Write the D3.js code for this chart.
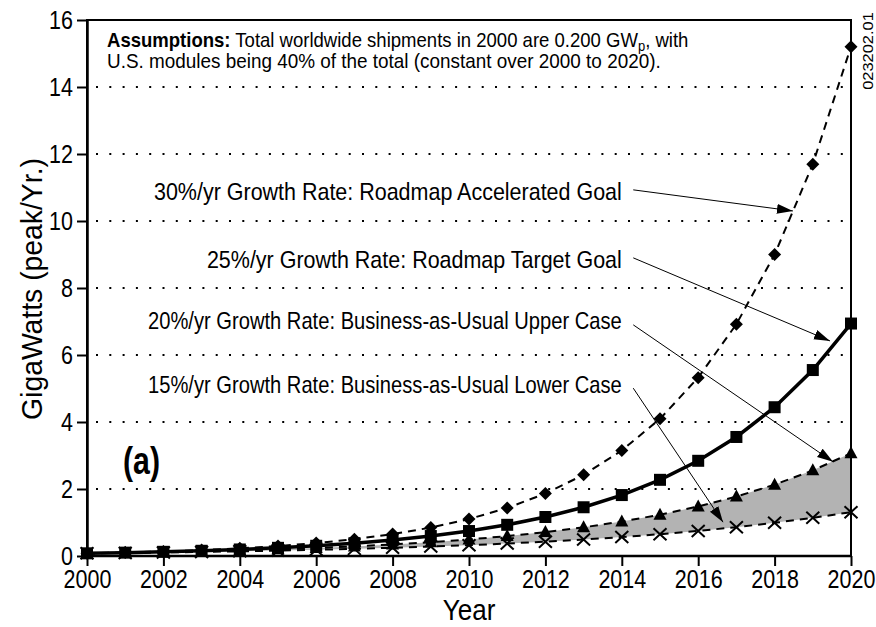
<!DOCTYPE html>
<html>
<head>
<meta charset="utf-8">
<script src="https://cdn.jsdelivr.net/npm/d3@7"></script>
<style>
  body { margin: 0; background: #fff; }
  text { font-family: "Liberation Sans", Arial, sans-serif; fill: #000; }
</style>
</head>
<body>
<div id="chart"></div>
<script>
// years and GW (peak/yr) of U.S. module shipments, one list per growth scenario
var years = [2000, 2001, 2002, 2003, 2004, 2005, 2006, 2007, 2008, 2009, 2010,
             2011, 2012, 2013, 2014, 2015, 2016, 2017, 2018, 2019, 2020];
var growth30 = [0.080, 0.104, 0.135, 0.176, 0.228, 0.297, 0.386, 0.502, 0.653, 0.848, 1.103,
                1.434, 1.864, 2.423, 3.150, 4.095, 5.324, 6.921, 8.997, 11.696, 15.205];
var growth25 = [0.080, 0.100, 0.125, 0.156, 0.195, 0.244, 0.305, 0.381, 0.477, 0.596, 0.745,
                0.931, 1.164, 1.455, 1.819, 2.274, 2.842, 3.553, 4.441, 5.551, 6.939];
var growth20 = [0.080, 0.096, 0.115, 0.138, 0.166, 0.199, 0.239, 0.287, 0.344, 0.413, 0.495,
                0.594, 0.713, 0.856, 1.027, 1.233, 1.479, 1.775, 2.130, 2.556, 3.067];
var growth15 = [0.080, 0.092, 0.106, 0.122, 0.140, 0.161, 0.185, 0.213, 0.245, 0.281, 0.324,
                0.372, 0.428, 0.492, 0.566, 0.651, 0.749, 0.861, 0.990, 1.139, 1.309];

var xTicks = [2000, 2002, 2004, 2006, 2008, 2010, 2012, 2014, 2016, 2018, 2020];
var yTicks = [0, 2, 4, 6, 8, 10, 12, 14, 16];
var gridValues = [2, 4, 6, 8, 10, 12, 14];

var noteLabels = [
  "30%/yr Growth Rate: Roadmap Accelerated Goal",
  "25%/yr Growth Rate: Roadmap Target Goal",
  "20%/yr Growth Rate: Business-as-Usual Upper Case",
  "15%/yr Growth Rate: Business-as-Usual Lower Case"
];

(function() {
  var width = 876
    , height = 627
    , left = 87
    , right = 851
    , top = 20
    , bottom = 556
    , tickCondense = 0.86
    ;

  var x = d3.scaleLinear().domain([2000, 2020]).range([left, right])
    , y = d3.scaleLinear().domain([0, 16]).range([bottom, top])
    ;

  var svg = d3.select('#chart')
    .append('svg')
      .attr('width', width)
      .attr('height', height);

  // the original uses a condensed face; squeeze a normal one to the measured width
  function condense(text, px, py, rot, targetWidth) {
    var w = text.node().getBBox().width
      , s = targetWidth / w;
    text.attr('x', 0).attr('y', 0)
      .attr('transform', `translate(${px},${py})` + (rot ? ` rotate(${rot})` : '') + ` scale(${s},1)`);
    return text;
  }

  // arrowhead
  svg.append('defs')
    .append('marker')
      .attr('id', 'arrow')
      .attr('markerUnits', 'userSpaceOnUse')
      .attr('markerWidth', 18)
      .attr('markerHeight', 12)
      .attr('refX', 16)
      .attr('refY', 5)
      .attr('orient', 'auto')
    .append('path')
      .attr('d', 'M0,0L16,5L0,10Z')
      .attr('fill', '#000');

  // dotted grid
  svg.append('g')
    .selectAll('line')
    .data(gridValues)
    .enter()
    .append('line')
      .attr('x1', left + 9)
      .attr('x2', right)
      .attr('y1', d => y(d))
      .attr('y2', d => y(d))
      .attr('stroke', '#000')
      .attr('stroke-width', 2)
      .attr('stroke-dasharray', '2,11.3');

  // shaded band between 15% and 20%
  var band = d3.area()
    .x((d, i) => x(years[i]))
    .y0((d, i) => y(growth15[i]))
    .y1((d, i) => y(growth20[i]));

  svg.append('path')
    .datum(years)
    .attr('d', band)
    .attr('fill', '#b3b3b3');

  function lineFor(values) {
    return d3.line()
      .x((d, i) => x(years[i]))
      .y((d, i) => y(values[i]))(years);
  }

  var series = [
    { values: growth15, width: 2, dash: '8,6' },
    { values: growth20, width: 2, dash: '8,6' },
    { values: growth30, width: 2, dash: '8,6' },
    { values: growth25, width: 3.5, dash: null }
  ];

  svg.append('g')
    .selectAll('path')
    .data(series)
    .enter()
    .append('path')
      .attr('d', d => lineFor(d.values))
      .attr('fill', 'none')
      .attr('stroke', '#000')
      .attr('stroke-width', d => d.width)
      .attr('stroke-dasharray', d => d.dash);

  // markers
  var gMarks = svg.append('g');

  gMarks.selectAll('path.cross')
    .data(growth15)
    .enter()
    .append('path')
      .attr('class', 'cross')
      .attr('transform', (d, i) => `translate(${x(years[i])},${y(d)})`)
      .attr('d', 'M-6.5,-6L6.5,6M-6.5,6L6.5,-6')
      .attr('stroke', '#000')
      .attr('stroke-width', 2)
      .attr('fill', 'none');

  gMarks.selectAll('path.tri')
    .data(growth20)
    .enter()
    .append('path')
      .attr('class', 'tri')
      .attr('transform', (d, i) => `translate(${x(years[i])},${y(d)})`)
      .attr('d', 'M0,-7L6.5,5L-6.5,5Z')
      .attr('fill', '#000');

  gMarks.selectAll('path.dia')
    .data(growth30)
    .enter()
    .append('path')
      .attr('class', 'dia')
      .attr('transform', (d, i) => `translate(${x(years[i])},${y(d)})`)
      .attr('d', 'M0,-6.5L6.5,0L0,6.5L-6.5,0Z')
      .attr('fill', '#000');

  gMarks.selectAll('rect')
    .data(growth25)
    .enter()
    .append('rect')
      .attr('x', (d, i) => x(years[i]) - 6)
      .attr('y', d => y(d) - 6)
      .attr('width', 12)
      .attr('height', 12)
      .attr('fill', '#000');

  // frame
  svg.append('path')
    .attr('d', `M${left},${bottom}V${top}H${right}V${bottom}`)
    .attr('fill', 'none')
    .attr('stroke', '#000')
    .attr('stroke-width', 2);

  // axes
  var xAxis = svg.append('g')
    .attr('transform', `translate(0,${bottom})`)
    .call(d3.axisBottom(x).tickValues(xTicks).tickFormat(d3.format('d')).tickSize(10).tickSizeOuter(0));

  var yAxis = svg.append('g')
    .attr('transform', `translate(${left},0)`)
    .call(d3.axisLeft(y).tickValues(yTicks).tickSize(10).tickSizeOuter(0));

  [xAxis, yAxis].forEach(function(g) {
    g.select('.domain').attr('stroke-width', 2.5);
    g.selectAll('.tick line').attr('stroke-width', 2);
    g.selectAll('.tick text')
      .attr('font-family', null)
      .attr('font-size', 25);
  });
  xAxis.select('.domain').attr('d', `M${left - 1},0H${right + 1}`);

  xAxis.selectAll('.tick text')
    .attr('y', 0)
    .attr('dy', null)
    .attr('transform', `translate(0,32) scale(${tickCondense},1)`);

  yAxis.selectAll('.tick text')
    .attr('x', 0)
    .attr('dy', '0.35em')
    .attr('transform', `translate(-14,0) scale(${tickCondense},1)`);

  // axis titles
  condense(svg.append('text')
      .attr('text-anchor', 'middle')
      .attr('font-size', 30)
      .text('GigaWatts (peak/Yr.)'),
    42, (top + bottom) / 2 + 1, -90, 262);

  condense(svg.append('text')
      .attr('text-anchor', 'middle')
      .attr('font-size', 29)
      .text('Year'),
    469, 620, 0, 53);

  // assumptions
  var note = svg.append('text')
    .attr('font-size', 20);
  note.append('tspan').attr('font-weight', 'bold').text('Assumptions:');
  note.append('tspan').text(' Total worldwide shipments in 2000 are 0.200 GW');
  note.append('tspan').attr('font-size', 14).attr('dy', 4).text('p');
  note.append('tspan').attr('dy', -4).text(', with');
  condense(note, 107, 47, 0, 582);

  condense(svg.append('text')
      .attr('font-size', 20)
      .text('U.S. modules being 40% of the total (constant over 2000 to 2020).'),
    107, 68, 0, 554);

  // panel letter
  condense(svg.append('text')
      .attr('font-size', 38)
      .attr('font-weight', 'bold')
      .text('(a)'),
    123, 474, 0, 37);

  // figure id
  condense(svg.append('text')
      .attr('text-anchor', 'middle')
      .attr('font-size', 14)
      .text('023202.01'),
    873, 51, -90, 78);

  // annotation labels with arrows (positions in data units)
  var notes = [
    { label: noteLabels[0], at: [2014.0, 10.62], span: 468, from: [2014.3, 10.93], to: [2018.48, 10.30] },
    { label: noteLabels[1], at: [2014.0, 8.6],   span: 415, from: [2014.3, 8.90],  to: [2019.45, 6.42] },
    { label: noteLabels[2], at: [2014.0, 6.78],  span: 474, from: [2014.3, 6.90],  to: [2019.53, 2.81] },
    { label: noteLabels[3], at: [2014.0, 4.87],  span: 474, from: [2014.3, 5.01],  to: [2016.65, 1.01] }
  ];

  var gNotes = svg.append('g');

  gNotes.selectAll('text')
    .data(notes)
    .enter()
    .append('text')
      .attr('text-anchor', 'end')
      .attr('font-size', 24)
      .text(d => d.label)
      .each(function(d) {
        condense(d3.select(this), x(d.at[0]), y(d.at[1]), 0, d.span);
      });

  gNotes.selectAll('line')
    .data(notes)
    .enter()
    .append('line')
      .attr('x1', d => x(d.from[0]))
      .attr('y1', d => y(d.from[1]))
      .attr('x2', d => x(d.to[0]))
      .attr('y2', d => y(d.to[1]))
      .attr('stroke', '#000')
      .attr('stroke-width', 1)
      .attr('marker-end', 'url(#arrow)');
})();
</script>
</body>
</html>
